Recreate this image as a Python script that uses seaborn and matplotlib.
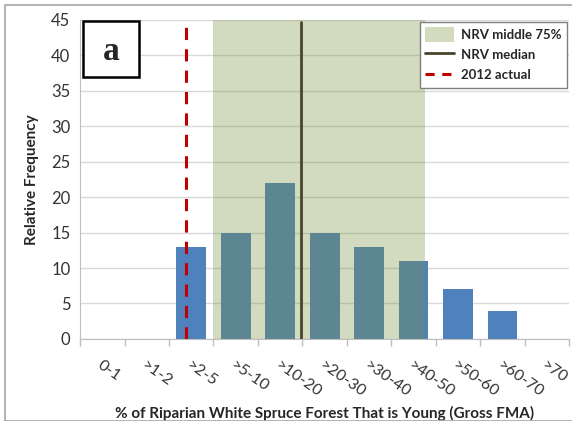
import matplotlib
matplotlib.use("Agg")
import matplotlib.pyplot as plt
import seaborn as sns
import pandas as pd
from matplotlib.patches import Rectangle, Patch
from matplotlib.lines import Line2D

# Histogram of NRV simulations
categories = ['0-1', '>1-2', '>2-5', '>5-10', '>10-20', '>20-30',
              '>30-40', '>40-50', '>50-60', '>60-70', '>70']
frequency = [0, 0, 13, 15, 22, 15, 13, 11, 7, 4, 0]

# Reference values in category-index units
nrv_low = 2.5
nrv_high = 7.25
nrv_median = 4.48
actual_2012 = 1.89

df = pd.DataFrame({'category': categories, 'frequency': frequency})

sns.set_style('white')
plt.rcParams['font.family'] = ['Lato', 'DejaVu Sans']

fig = plt.figure(figsize=(5.72, 4.21), dpi=100)
ax = fig.add_axes([0.140, 0.195, 0.855, 0.7575])

sns.barplot(data=df, x='category', y='frequency', color='#4F81BD',
            saturation=1, width=0.67, linewidth=0, ax=ax, zorder=2)

# NRV middle 75% band drawn as a translucent overlay
ax.axvspan(nrv_low, nrv_high, color='#77923D', alpha=0.33, lw=0, zorder=3)
ax.axvline(nrv_median, ymin=0, ymax=0.995, color='#4A452A', lw=2, zorder=4)
ax.axvline(actual_2012, ymin=0, ymax=0.985, color='#C00000', lw=2.2,
           ls=(0, (4, 3)), zorder=4)

ax.set_xlim(-0.5, 10.5)
ax.set_ylim(0, 45)
ax.set_yticks(range(0, 46, 5))
ax.yaxis.grid(True, color='#D9D9D9', lw=1)
ax.set_axisbelow(True)
ax.tick_params(axis='y', length=0, labelsize=12, colors='#333333', pad=7)

ax.set_xticks(range(len(categories)))
ax.set_xticklabels(categories, rotation=-35, ha='left', va='top',
                   rotation_mode='anchor', fontsize=11.5, color='#333333')
ax.set_xticks([i - 0.5 for i in range(len(categories) + 1)], minor=True)
ax.tick_params(axis='x', which='major', length=0, pad=14)
ax.tick_params(axis='x', which='minor', length=5, color='#BFBFBF', width=1,
               bottom=True)

for side in ['top', 'right']:
    ax.spines[side].set_visible(False)
for side in ['left', 'bottom']:
    ax.spines[side].set_color('#BFBFBF')

ax.set_xlabel('% of Riparian White Spruce Forest That is Young (Gross FMA)',
              fontsize=11, fontweight='bold', labelpad=4)
ax.set_ylabel('Relative Frequency', fontsize=11, fontweight='bold', labelpad=9)

# panel letter
ax.add_patch(Rectangle((0.006, 0.82), 0.115, 0.178, transform=ax.transAxes,
                       facecolor='white', edgecolor='black', lw=1.8,
                       zorder=5, clip_on=False))
ax.text(0.0635, 0.90, 'a', transform=ax.transAxes, ha='center', va='center',
        fontsize=24, fontweight='bold', family='Liberation Serif', zorder=6)

handles = [Patch(facecolor='#D3DBBF', edgecolor='none'),
           Line2D([0], [0], color='#4A452A', lw=2),
           Line2D([0], [0], color='#C00000', lw=2.2, ls=(0, (3, 2.5)))]
leg = ax.legend(handles, ['NRV middle 75%', 'NRV median', '2012 actual'],
                loc='upper right', bbox_to_anchor=(0.998, 0.998), frameon=True,
                fancybox=False, edgecolor='#7F7F7F', framealpha=1,
                prop={'weight': 'bold', 'size': 9.5}, handlelength=2.2,
                handleheight=1.3, handletextpad=0.5, borderpad=0.4,
                labelspacing=0.45, borderaxespad=0.1)
leg.get_frame().set_linewidth(1)
leg.set_zorder(6)

# outer chart border
fig.patches.append(Rectangle((5 / 572, 0), 1, 1 - 5 / 421,
                             transform=fig.transFigure, fill=False,
                             edgecolor='#A6A6A6', lw=1.2))

fig.savefig('out.png', dpi=100)
